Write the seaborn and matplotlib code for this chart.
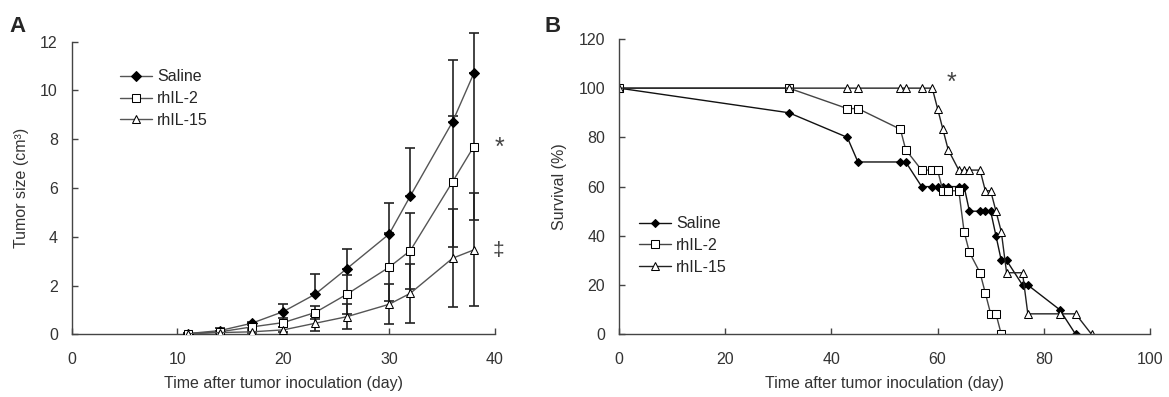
import numpy as np
import pandas as pd
import matplotlib
matplotlib.use("Agg")
import matplotlib.pyplot as plt
import seaborn as sns

# panel A: tumor growth
days_a = [11, 14, 17, 20, 23, 26, 30, 32, 36, 38]
saline_size = [0.03, 0.15, 0.45, 0.93, 1.64, 2.69, 4.11, 5.67, 8.72, 10.70]
rhil2_size = [0.03, 0.10, 0.30, 0.48, 0.89, 1.64, 2.75, 3.43, 6.26, 7.70]
rhil15_size = [0.02, 0.07, 0.10, 0.18, 0.45, 0.72, 1.23, 1.68, 3.12, 3.46]
saline_err = [0.02, 0.10, 0.07, 0.30, 0.82, 0.81, 1.26, 1.96, 2.53, 1.65]
rhil2_err = [0.02, 0.05, 0.10, 0.20, 0.28, 0.80, 1.40, 1.56, 2.69, 3.01]
rhil15_err = [0.01, 0.03, 0.05, 0.10, 0.31, 0.52, 0.82, 1.20, 2.00, 2.32]

# panel B: survival
saline_day = [0, 32, 43, 45, 53, 54, 57, 59, 60, 61, 62, 64, 65, 66, 68, 69, 70,
              71, 72, 73, 76, 77, 83, 86]
saline_surv = [100, 90, 80, 70, 70, 70, 60, 60, 60, 60, 60, 60, 60, 50, 50, 50, 50,
               40, 30, 30, 20, 20, 10, 0]
rhil2_day = [0, 32, 43, 45, 53, 54, 57, 59, 60, 61, 62, 64, 65, 66, 68, 69, 70, 71, 72]
rhil2_surv = [100, 100, 91.7, 91.7, 83.3, 75, 66.7, 66.7, 66.7, 58.3, 58.3, 58.3,
              41.7, 33.3, 25, 16.7, 8.3, 8.3, 0]
rhil15_day = [0, 32, 43, 45, 53, 54, 57, 59, 60, 61, 62, 64, 65, 66, 68, 69, 70,
              71, 72, 73, 76, 77, 83, 86, 89]
rhil15_surv = [100, 100, 100, 100, 100, 100, 100, 100, 91.7, 83.3, 75, 66.7, 66.7,
               66.7, 66.7, 58.3, 58.3, 50, 41.7, 25, 25, 8.3, 8.3, 8.3, 0]

groups = ["Saline", "rhIL-2", "rhIL-15"]

sns.set_style("ticks")
plt.rcParams["font.family"] = ["Liberation Sans", "DejaVu Sans"]
txt = "#333333"
plt.rcParams.update({"axes.edgecolor": "#444444", "xtick.color": "#444444",
                     "ytick.color": "#444444", "xtick.labelcolor": txt,
                     "ytick.labelcolor": txt, "axes.labelcolor": txt,
                     "font.size": 11.5})
fs = 11.5

fig = plt.figure(figsize=(11.69, 3.97), dpi=100)
axA = fig.add_axes([0.0613, 0.158, 0.3621, 0.737])
axB = fig.add_axes([0.5295, 0.158, 0.4542, 0.744])

styles = {
    "Saline": dict(marker="D", markerfacecolor="black", markeredgecolor="black", markersize=4.8),
    "rhIL-2": dict(marker="s", markerfacecolor="white", markeredgecolor="black", markersize=5.8),
    "rhIL-15": dict(marker="^", markerfacecolor="white", markeredgecolor="black", markersize=6.3),
}

# ---- panel A ----
sizes = {"Saline": saline_size, "rhIL-2": rhil2_size, "rhIL-15": rhil15_size}
errs = {"Saline": saline_err, "rhIL-2": rhil2_err, "rhIL-15": rhil15_err}
for g in groups:
    e = np.array(errs[g])
    lower = np.zeros_like(e) if g == "Saline" else e
    eb = axA.errorbar(days_a, sizes[g], yerr=[lower, e], fmt="none", ecolor="#222222",
                      elinewidth=1.2, capsize=3.6, capthick=1.2, zorder=2)
    for art in eb.lines[1] + eb.lines[2]:
        art.set_clip_on(False)
for g in groups:
    df = pd.DataFrame({"day": days_a, "size": sizes[g]})
    sns.lineplot(data=df, x="day", y="size", ax=axA, color="#555555", linewidth=1,
                 label=g, zorder=3, **styles[g])

axA.set_xlim(0, 40)
axA.set_ylim(0, 12)
axA.set_xticks([0, 10, 20, 30, 40])
axA.set_yticks(range(0, 13, 2))
axA.set_xlabel("Time after tumor inoculation (day)", fontsize=fs, labelpad=6)
axA.set_ylabel("Tumor size (cm\u00b3)", fontsize=fs, labelpad=8)
axA.legend(loc="upper left", bbox_to_anchor=(0.115, 0.905), frameon=False,
           handlelength=2.0, handletextpad=0.3, labelspacing=0.42, fontsize=fs,
           borderpad=0, borderaxespad=0)
axA.text(40.4, 7.64, "*", fontsize=18, color="#444444", ha="center", va="center",
         clip_on=False)
axA.text(40.3, 3.45, "\u2021", fontsize=15, color="#444444", ha="center", va="center",
         clip_on=False)

# ---- panel B ----
surv = {"Saline": (saline_day, saline_surv), "rhIL-2": (rhil2_day, rhil2_surv),
        "rhIL-15": (rhil15_day, rhil15_surv)}
line_cols = {"Saline": "#111111", "rhIL-2": "#444444", "rhIL-15": "#222222"}
for g in groups:
    d, s = surv[g]
    df = pd.DataFrame({"day": d, "surv": s})
    st = dict(styles[g])
    st["markersize"] = st["markersize"] * 0.9
    sns.lineplot(data=df, x="day", y="surv", ax=axB, color=line_cols[g], linewidth=1,
                 label=g, **st)

axB.set_xlim(0, 100)
axB.set_ylim(0, 120)
axB.set_xticks(range(0, 101, 20))
axB.set_yticks(range(0, 121, 20))
axB.set_xlabel("Time after tumor inoculation (day)", fontsize=fs, labelpad=6)
axB.set_ylabel("Survival (%)", fontsize=fs, labelpad=8)
axB.legend(loc="upper left", bbox_to_anchor=(0.038, 0.40), frameon=False,
           handlelength=2.0, handletextpad=0.3, labelspacing=0.42, fontsize=fs,
           borderpad=0, borderaxespad=0)
axB.text(62.7, 102, "*", fontsize=18, color="#444444", ha="center", va="center")

for ax in (axA, axB):
    sns.despine(ax=ax)
    ax.tick_params(direction="in", length=4, width=1, labelsize=fs)
    ax.tick_params(axis="x", pad=13)
    ax.tick_params(axis="y", pad=10)
    for sp in ax.spines.values():
        sp.set_linewidth(1)

fig.text(0.008, 0.96, "A", fontsize=16, fontweight="bold", va="top")
fig.text(0.466, 0.96, "B", fontsize=16, fontweight="bold", va="top")

fig.savefig("out.png", dpi=100)
